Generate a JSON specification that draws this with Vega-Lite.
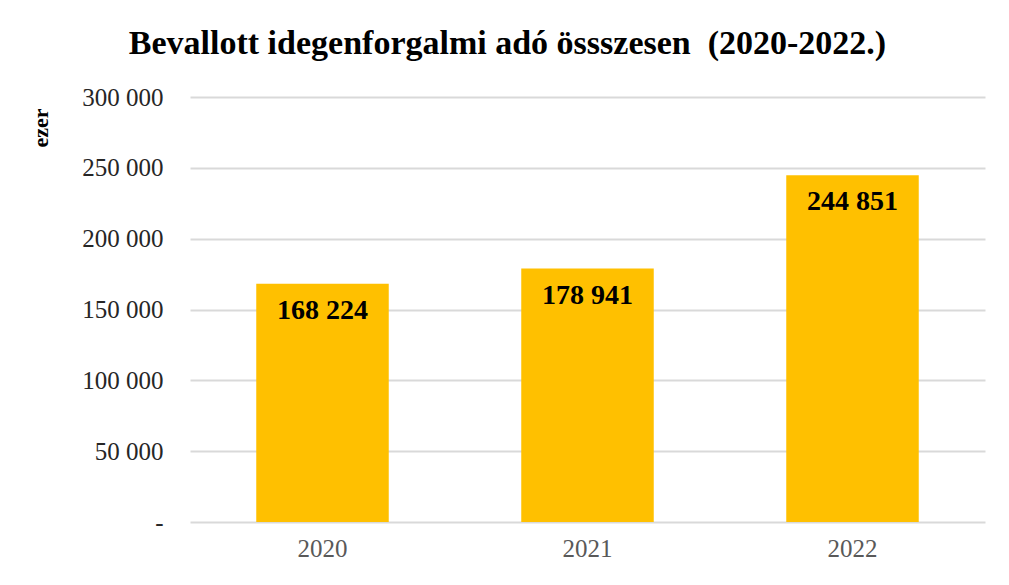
{
  "$schema": "https://vega.github.io/schema/vega-lite/v6.json",
  "width": 795,
  "height": 425,
  "autosize": {"type": "none"},
  "padding": {"left": 190, "top": 97, "right": 24, "bottom": 63},
  "background": "white",
  "title": {
    "text": "Bevallott idegenforgalmi adó össszesen\u00a0 (2020-2022.)",
    "font": "Liberation Serif",
    "fontSize": 34,
    "fontWeight": "bold",
    "color": "#000000",
    "anchor": "middle",
    "frame": "group",
    "dx": -80,
    "offset": 24
  },
  "data": {
    "values": [
      {"ev": "2020", "ertek": 168224},
      {"ev": "2021", "ertek": 178941},
      {"ev": "2022", "ertek": 244851}
    ]
  },
  "encoding": {
    "x": {
      "field": "ev",
      "type": "nominal",
      "scale": {"paddingInner": 0.5, "paddingOuter": 0.25},
      "axis": {
        "title": null,
        "labelAngle": 0,
        "labelFont": "Liberation Serif",
        "labelFontSize": 25,
        "labelColor": "#595959",
        "labelPadding": 14,
        "ticks": false,
        "domain": false
      }
    },
    "y": {
      "field": "ertek",
      "type": "quantitative",
      "scale": {"domain": [0, 300000]},
      "axis": {
        "values": [0, 50000, 100000, 150000, 200000, 250000, 300000],
        "labelExpr": "datum.value == 0 ? '-' : format(datum.value, ',')",
        "labelFont": "Liberation Serif",
        "labelFontSize": 25,
        "labelColor": "#262626",
        "labelPadding": 27,
        "ticks": false,
        "domain": false,
        "grid": true,
        "gridColor": "#d9d9d9",
        "gridWidth": 2,
        "title": "ezer",
        "titleFont": "Liberation Serif",
        "titleFontSize": 22,
        "titleFontWeight": "bold",
        "titleColor": "#000000",
        "titleAngle": -90,
        "titleAnchor": "end",
        "titleX": -150,
        "titleY": 11,
        "titleAlign": "right",
        "titleBaseline": "middle"
      }
    }
  },
  "layer": [
    {"mark": {"type": "bar", "color": "#FFC000"}},
    {
      "mark": {
        "type": "text",
        "baseline": "top",
        "dy": 13,
        "font": "Liberation Serif",
        "fontSize": 28,
        "fontWeight": "bold",
        "color": "#000000"
      },
      "encoding": {
        "text": {"field": "ertek", "type": "quantitative", "format": ","}
      }
    }
  ],
  "config": {
    "view": {"stroke": null},
    "locale": {
      "number": {
        "decimal": ",",
        "thousands": " ",
        "grouping": [3],
        "currency": ["", " Ft"]
      }
    }
  }
}
